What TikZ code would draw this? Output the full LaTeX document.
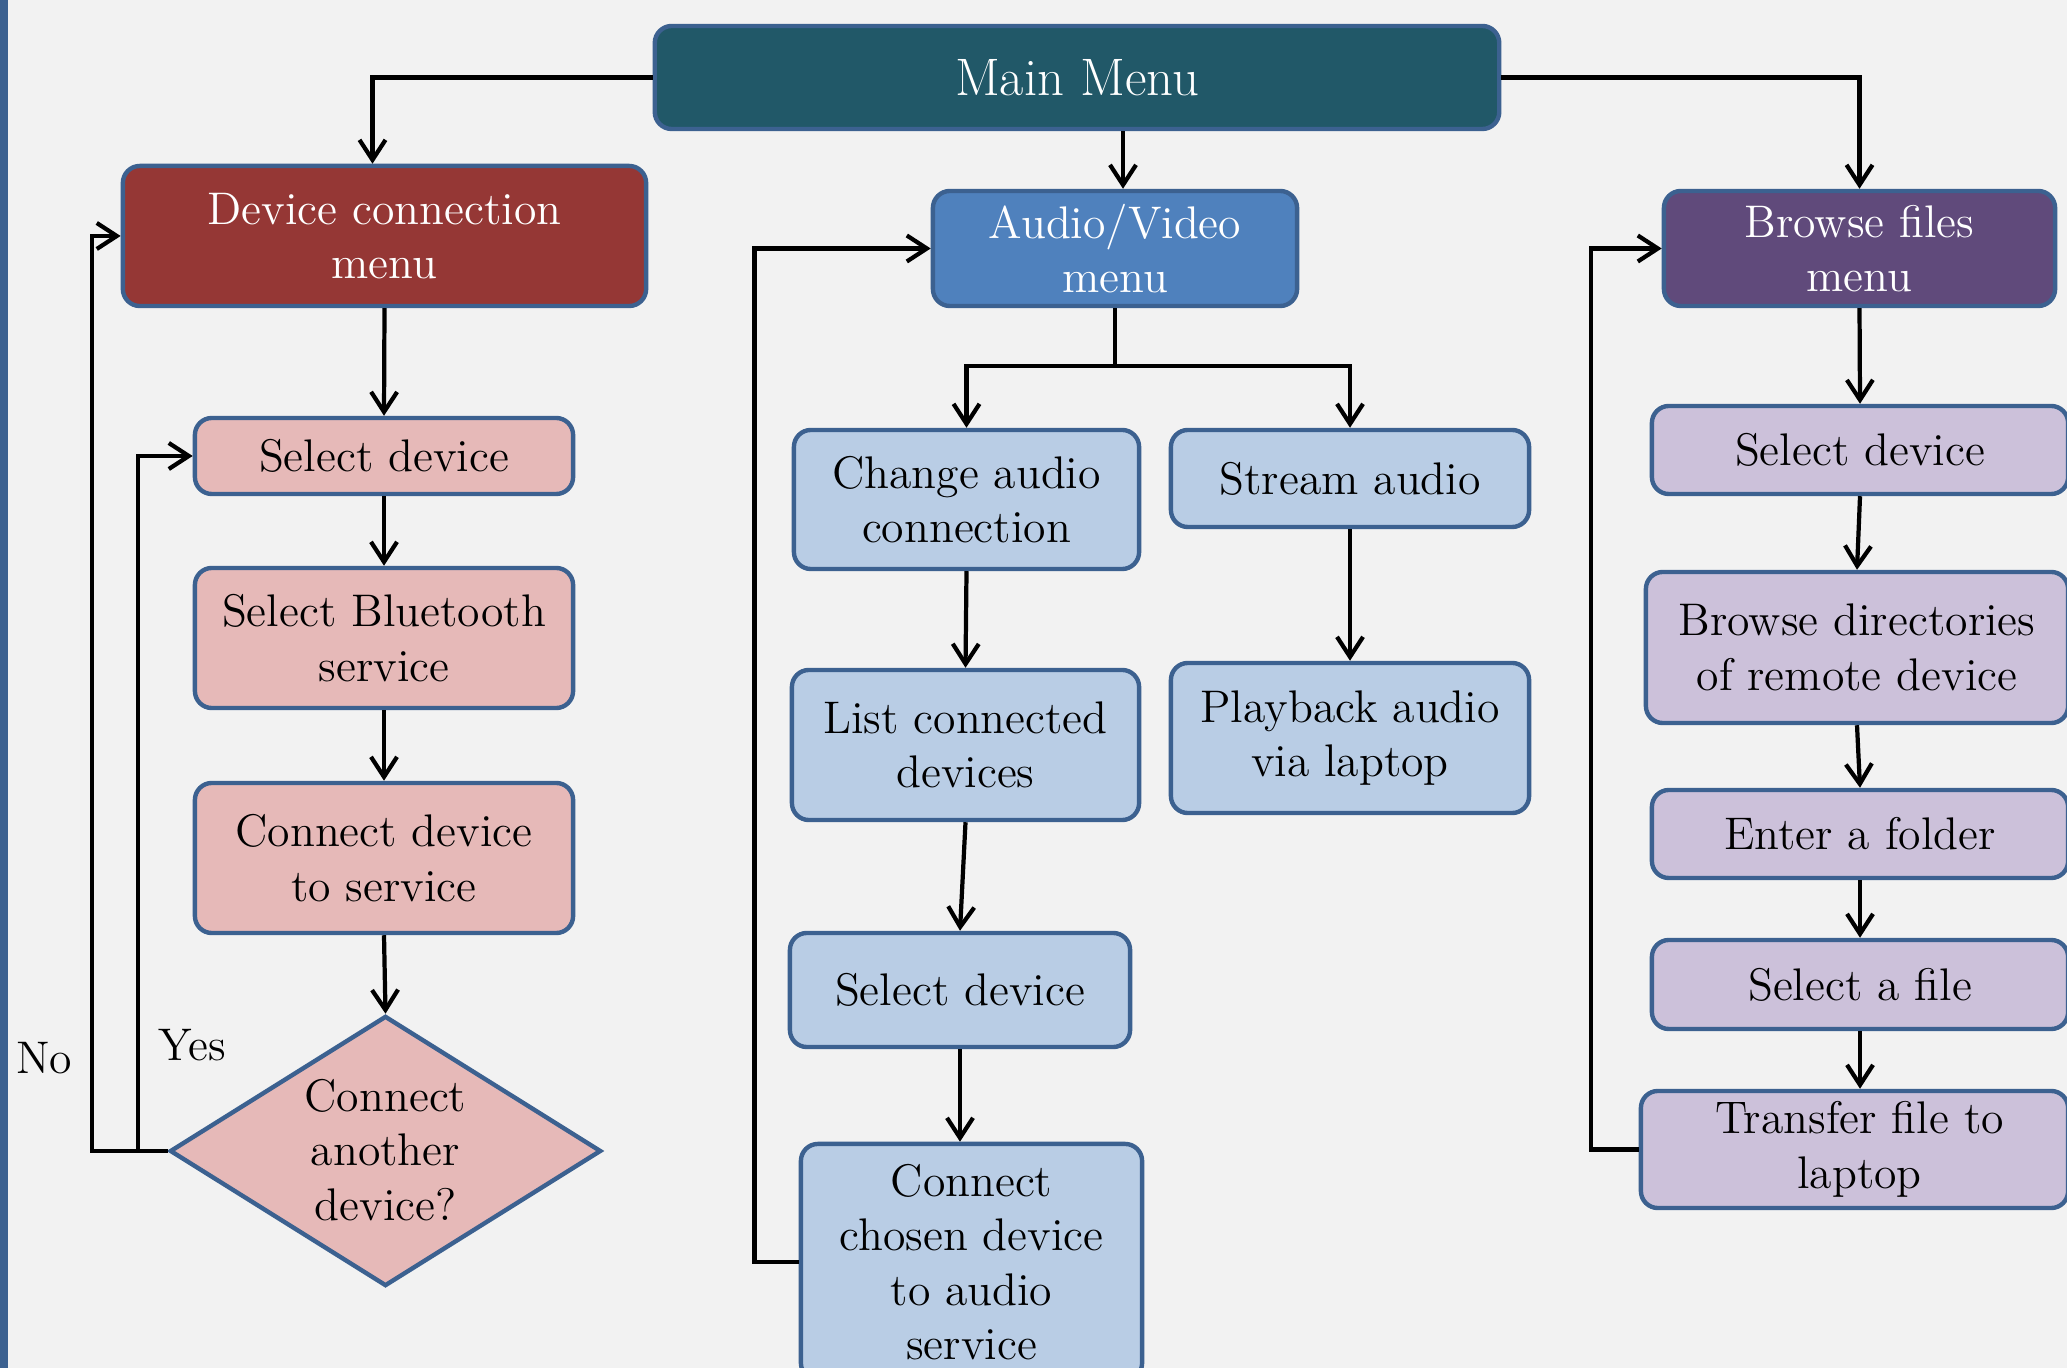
\documentclass[tikz,border=0pt]{standalone}
\usepackage{fontspec}
\usetikzlibrary{arrows.meta,shapes.geometric,calc}
\definecolor{bg}{HTML}{F2F2F2}
\definecolor{edge}{HTML}{3C6190}
\definecolor{mainfill}{HTML}{215868}
\definecolor{dcmfill}{HTML}{953735}
\definecolor{avfill}{HTML}{4F81BD}
\definecolor{bffill}{HTML}{604A7B}
\definecolor{lred}{HTML}{E6B9B8}
\definecolor{lblue}{HTML}{B9CDE5}
\definecolor{lviolet}{HTML}{CCC1DA}
\begin{document}
\begin{tikzpicture}[x=0.01cm,y=-0.01cm,
  box/.style={draw=edge, line width=1.25pt, rounded corners=0.17cm, inner sep=0pt,
    align=center, font=\fontsize{13}{15.5}\selectfont},
  dark/.style={box, text=white},
  conn/.style={line width=1.2pt, draw=black, -{Straight Barb[length=0.2cm,width=0.26cm,line width=1.2pt]}},
  plain/.style={line width=1.2pt, draw=black},
  lbl/.style={font=\fontsize{13}{15.5}\selectfont, inner sep=0pt}]
\fill[bg] (0,0) rectangle (2067,1368);
\useasboundingbox (0,0) rectangle (2067,1368);
\draw[edge, line width=3pt] (3,0) -- (3,1368);

% top level
\node[dark, fill=mainfill, minimum width=8.44cm, minimum height=1.03cm, font=\fontsize{15}{18}\selectfont] (main) at (1077,77.5) {Main Menu};
\node[dark, fill=dcmfill, minimum width=5.23cm, minimum height=1.40cm] (dcm) at (384.5,236) {Device connection\\menu};
\node[dark, fill=avfill, minimum width=3.64cm, minimum height=1.15cm] (av) at (1115,248.5) {Audio/Video\\menu};
\node[dark, fill=bffill, minimum width=3.91cm, minimum height=1.15cm] (bf) at (1859.5,248.5) {Browse files\\menu};

% left column
\node[box, fill=lred, minimum width=3.78cm, minimum height=0.76cm] (sdL) at (384,456) {Select device};
\node[box, fill=lred, minimum width=3.78cm, minimum height=1.40cm] (sbs) at (384,638) {Select Bluetooth\\service};
\node[box, fill=lred, minimum width=3.78cm, minimum height=1.50cm] (cds) at (384,858) {Connect device\\to service};
\node[draw=edge, line width=1.25pt, fill=lred, diamond, minimum width=4.31cm, minimum height=2.70cm, inner sep=0pt] (dia) at (385.5,1151) {};
\node[lbl, align=center] (dialbl) at (385.5,1150) {Connect\\another\\device?};

% middle column
\node[box, fill=lblue, minimum width=3.45cm, minimum height=1.39cm] (cac) at (966.5,499.5) {Change audio\\connection};
\node[box, fill=lblue, minimum width=3.58cm, minimum height=0.97cm] (sa) at (1350,478.5) {Stream audio};
\node[box, fill=lblue, minimum width=3.47cm, minimum height=1.50cm] (lcd) at (965.5,745) {List connected\\devices};
\node[box, fill=lblue, minimum width=3.58cm, minimum height=1.50cm] (pal) at (1350,738) {Playback audio\\via laptop};
\node[box, fill=lblue, minimum width=3.40cm, minimum height=1.14cm] (sdM) at (960,990) {Select device};
\node[box, fill=lblue, minimum width=3.41cm, minimum height=2.36cm] (ccd) at (971.5,1262) {Connect\\chosen device\\to audio\\service};

% right column
\node[box, fill=lviolet, minimum width=4.16cm, minimum height=0.88cm] (sdR) at (1860,450) {Select device};
\node[box, fill=lviolet, minimum width=4.22cm, minimum height=1.51cm] (bd) at (1857,647.5) {Browse directories\\of remote device};
\node[box, fill=lviolet, minimum width=4.16cm, minimum height=0.88cm] (ef) at (1860,834) {Enter a folder};
\node[box, fill=lviolet, minimum width=4.16cm, minimum height=0.89cm] (sf) at (1860,984.5) {Select a file};
\node[box, fill=lviolet, minimum width=4.27cm, minimum height=1.17cm] (tf) at (1854.5,1149.5) {\hspace*{0.1cm}Transfer file to\\\hspace*{0.1cm}laptop};

% labels
\node[lbl] (no) at (44,1058) {No};
\node[lbl] (yes) at (192,1045) {Yes};

% connectors from main menu
\draw[conn] (main.west) -| ([xshift=-0.12cm]dcm.north);
\draw[conn] ([xshift=0.08cm]av.north |- main.south) -- ([xshift=0.08cm]av.north);
\draw[conn] (main.east) -| (bf.north);

% left column
\draw[conn] (dcm.south) -- (sdL.north);
\draw[conn] (sdL.south) -- (sbs.north);
\draw[conn] (sbs.south) -- (cds.north);
\draw[conn] (cds.south) -- (dia.north);
\draw[conn] (dia.west) -| ([xshift=-0.29cm]dcm.west) -- (dcm.west);
\draw[conn] (dia.west) -| ([xshift=-0.55cm]sdL.west) -- (sdL.west);

% middle column
\coordinate (avb) at (1115,366);
\draw[plain] (av.south) -- (avb);
\draw[conn] (avb) -| (cac.north);
\draw[conn] (avb) -| (sa.north);
\draw[conn] (cac.south) -- (lcd.north);
\draw[conn] (lcd.south) -- (sdM.north);
\draw[conn] (sdM.south) -- (sdM.south |- ccd.north);
\draw[conn] (sa.south) -- (pal.north);
\draw[conn] (ccd.west) -| ([xshift=-1.76cm]av.west) -- (av.west);

% right column
\draw[conn] (bf.south) -- (sdR.north);
\draw[conn] (sdR.south) -- (bd.north);
\draw[conn] (bd.south) -- (ef.north);
\draw[conn] (ef.south) -- (sf.north);
\draw[conn] (sf.south) -- (sf.south |- tf.north);
\draw[conn] (tf.west) -| ([xshift=-0.71cm]bf.west) -- (bf.west);
\end{tikzpicture}
\end{document}
